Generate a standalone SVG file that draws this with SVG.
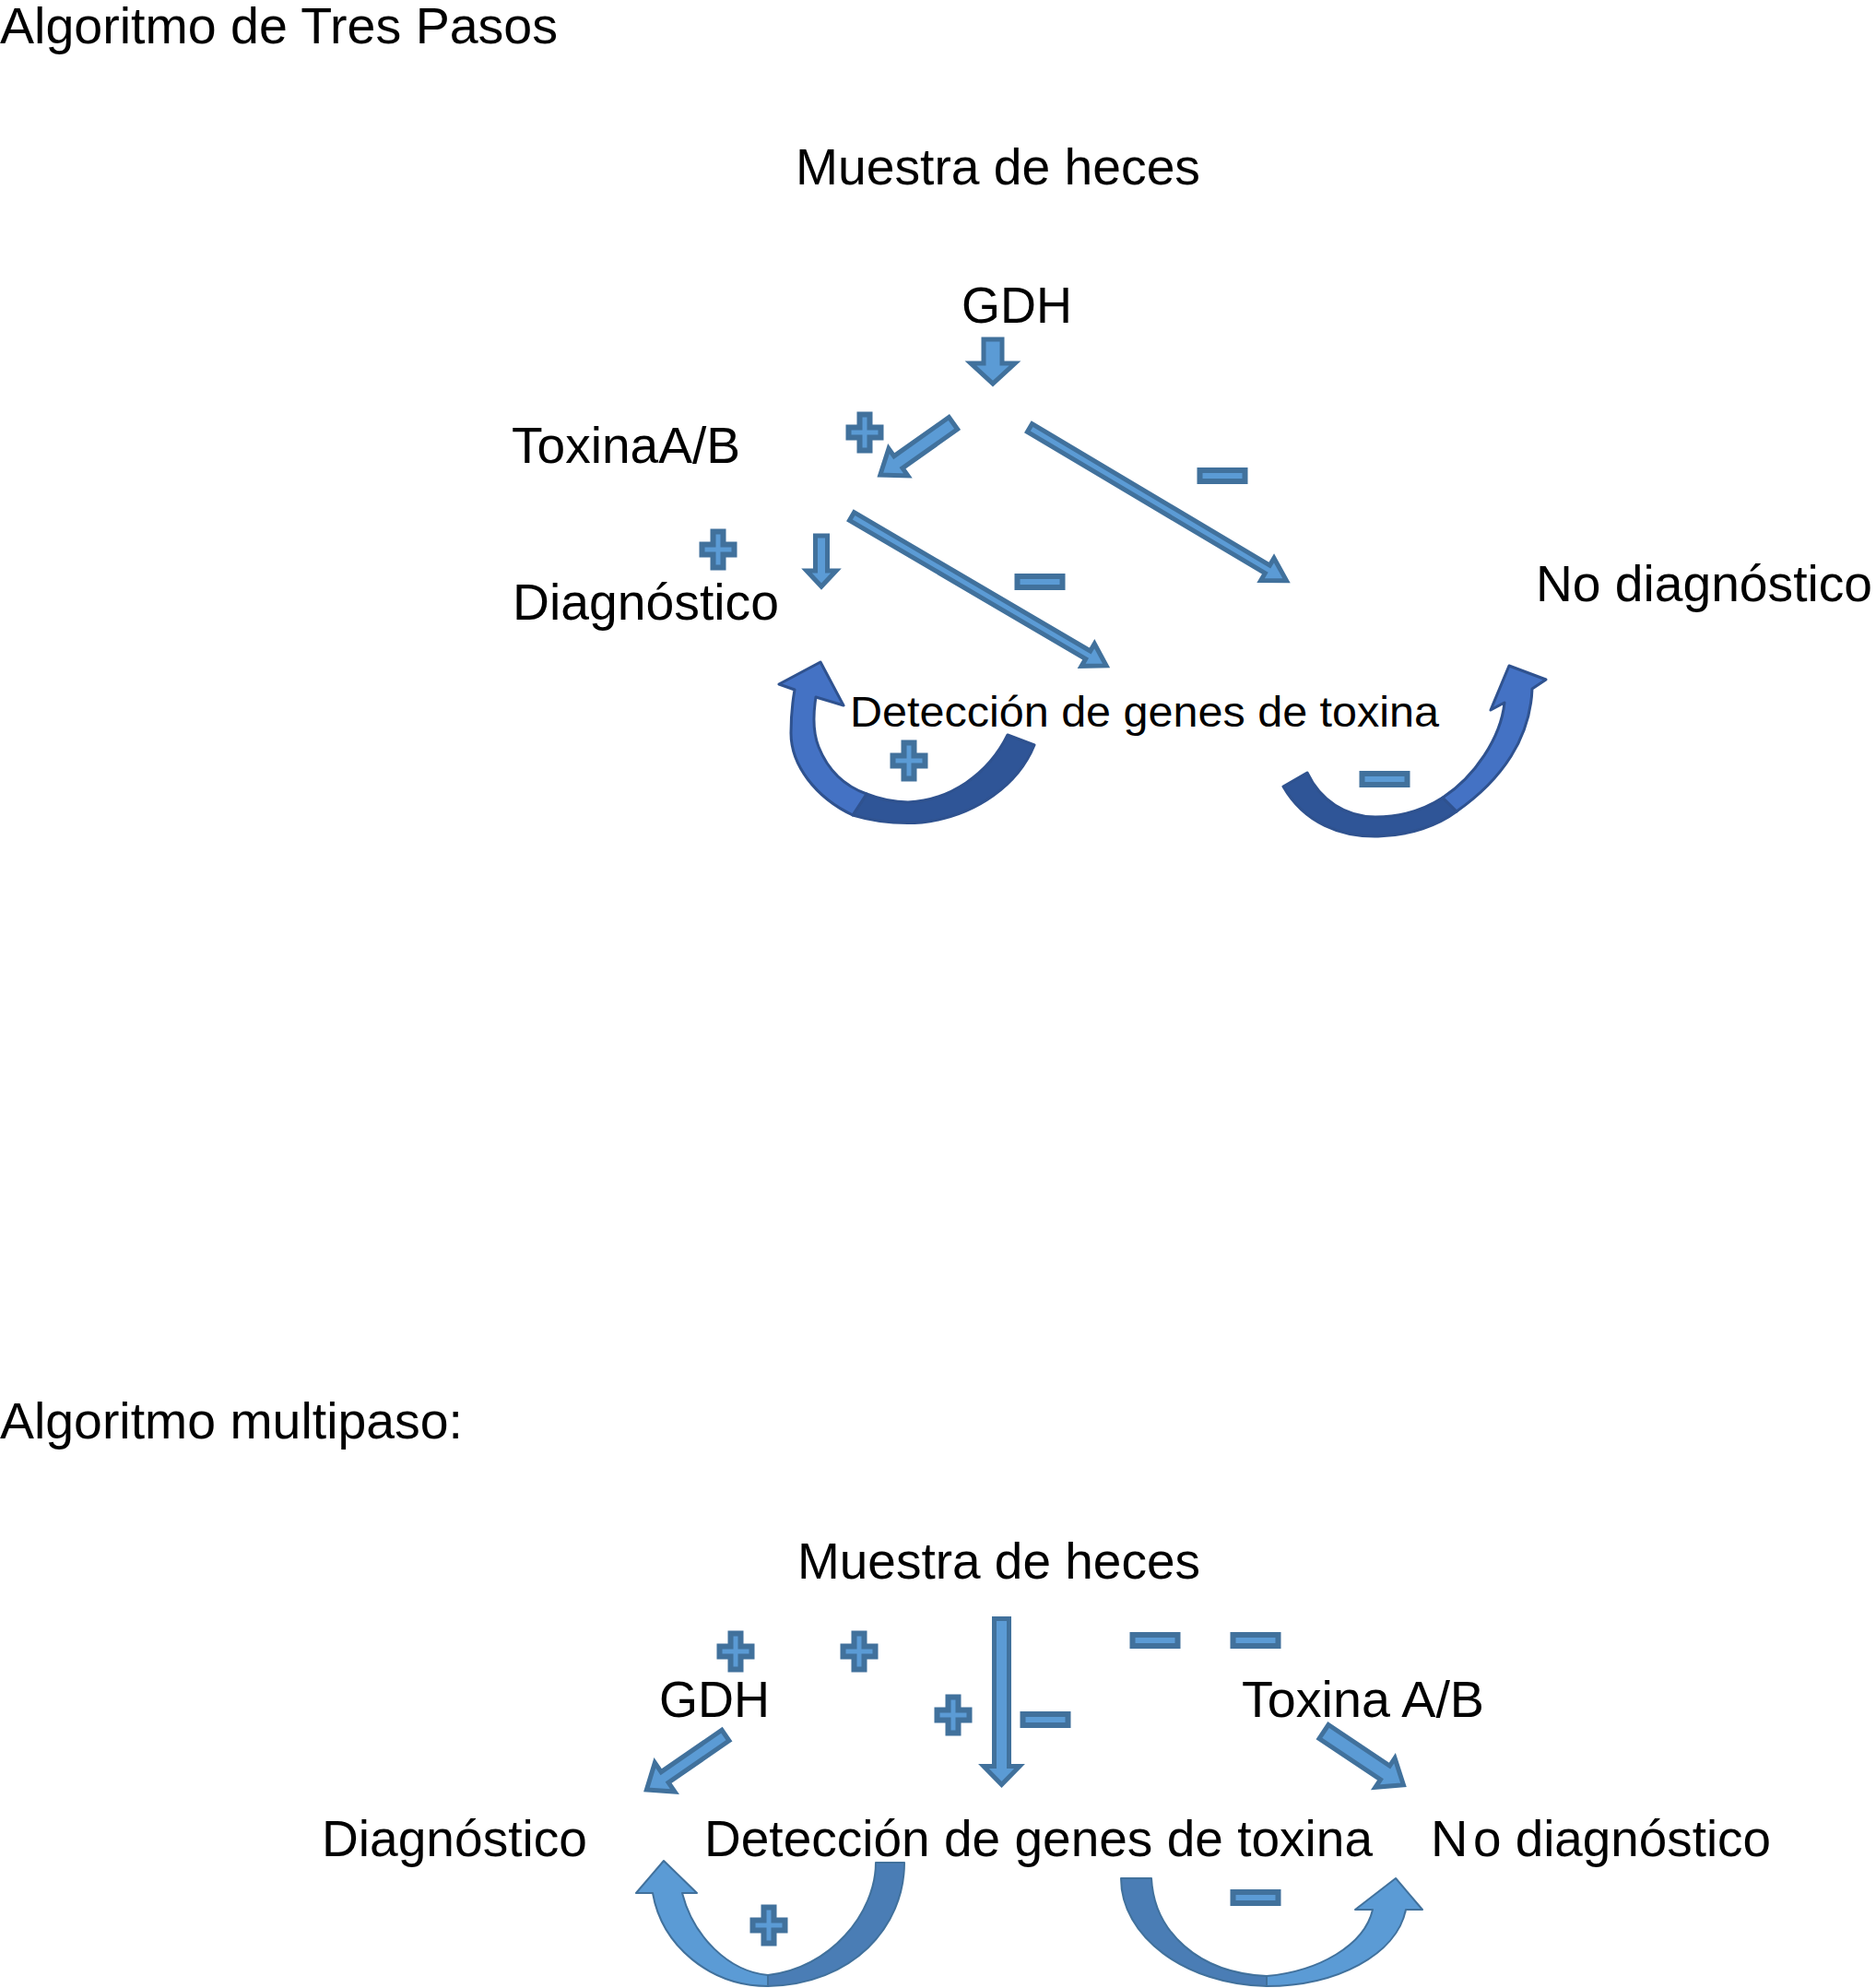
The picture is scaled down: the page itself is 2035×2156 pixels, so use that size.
<svg xmlns="http://www.w3.org/2000/svg" width="2035" height="2156" viewBox="0 0 2035 2156">
<style>
.t{font-family:"Liberation Sans",Arial,Helvetica,sans-serif;font-size:56px;fill:#000}
.s{font-size:47px}
.ar{fill:#5B9BD5;stroke:#41719C;stroke-width:5;stroke-linejoin:miter}
.sg{fill:#5B9BD5;stroke:#41719C;stroke-width:6}
.cl{fill:#4472C4;stroke:#2F528F;stroke-width:3;stroke-linejoin:round}
.cd{fill:#2F5597;stroke:#2F528F;stroke-width:3;stroke-linejoin:round}
.bl{fill:#5B9BD5;stroke:#41719C;stroke-width:2;stroke-linejoin:round}
.bd{fill:#4A7DB5;stroke:#41719C;stroke-width:2;stroke-linejoin:round}
</style>
<defs>
<path id="plus" d="M-5.5,-19.5 H5.5 V-5.5 H17.5 V5.5 H5.5 V19.5 H-5.5 V5.5 H-17.5 V-5.5 H-5.5 Z"/>
<rect id="minus" x="-24.5" y="-6" width="49" height="12"/>
</defs>

<g id="title-tres-pasos"><text class="t" x="0" y="47" textLength="605" lengthAdjust="spacingAndGlyphs">Algoritmo de Tres Pasos</text></g>
<g id="a-muestra"><text class="t" x="863" y="200" textLength="439" lengthAdjust="spacingAndGlyphs">Muestra de heces</text></g>
<g id="a-gdh"><text class="t" x="1043" y="350" textLength="120" lengthAdjust="spacingAndGlyphs">GDH</text></g>
<g id="a-toxina"><text class="t" x="555" y="502" textLength="248" lengthAdjust="spacingAndGlyphs">ToxinaA/B</text></g>
<g id="a-diagnostico"><text class="t" x="556" y="672" textLength="289" lengthAdjust="spacingAndGlyphs">Diagnóstico</text></g>
<g id="a-nodiag"><text class="t" x="1666" y="652" textLength="365" lengthAdjust="spacingAndGlyphs">No diagnóstico</text></g>
<g id="a-deteccion"><text class="t s" x="922" y="788" textLength="639" lengthAdjust="spacingAndGlyphs">Detección de genes de toxina</text></g>

<g id="title-multipaso"><text class="t" x="0" y="1560" textLength="502" lengthAdjust="spacingAndGlyphs">Algoritmo multipaso:</text></g>
<g id="b-muestra"><text class="t" x="865" y="1712" textLength="437" lengthAdjust="spacingAndGlyphs">Muestra de heces</text></g>
<g id="b-gdh"><text class="t" x="715" y="1862" textLength="120" lengthAdjust="spacingAndGlyphs">GDH</text></g>
<g id="b-toxina"><text class="t" x="1347" y="1862" textLength="263" lengthAdjust="spacingAndGlyphs">Toxina A/B</text></g>
<g id="b-diagnostico"><text class="t" x="349" y="2013" textLength="288" lengthAdjust="spacingAndGlyphs">Diagnóstico</text></g>
<g id="b-deteccion"><text class="t" x="764" y="2013" textLength="725" lengthAdjust="spacingAndGlyphs">Detección de genes de toxina</text></g>
<g id="b-nodiag"><text class="t" y="2013"><tspan x="1552">N</tspan><tspan x="1598" textLength="323" lengthAdjust="spacingAndGlyphs">o diagnóstico</tspan></text></g>

<g id="connectors">
<polygon class="ar" transform="translate(1077,368) rotate(90)" points="0,-10 26,-10 26,-24 48,0 26,24 26,10 0,10"/>
<polygon class="ar" transform="translate(1034,459) rotate(144.7)" points="0,-8 73,-8 73,-18 97,0 73,18 73,8 0,8"/>
<polygon class="ar" transform="translate(1117,464) rotate(30.75)" points="0,-5 300,-5 300,-14 324,0 300,14 300,5 0,5"/>
<polygon class="ar" transform="translate(924,560) rotate(30.4)" points="0,-5 297,-5 297,-14 320,0 297,14 297,5 0,5"/>
<polygon class="ar" transform="translate(891,581) rotate(90)" points="0,-6.5 38,-6.5 38,-16 55,0 38,16 38,6.5 0,6.5"/>
<path class="cd" d="M1122,808 C1105,850 1060,885 1000,892 C970,894 945,890 925,884 L940,861 C955,867 970,870 985,870 C1030,868 1072,840 1093,797 Z"/>
<path class="cl" d="M925,884 C885,865 858,830 858,795 C858,780 859,765 862,748 L845,742 L890,718 L915,765 L885,756 C882,775 882,795 888,810 C898,835 915,852 940,861 Z"/>
<path class="cd" d="M1392,853 C1415,893 1455,908 1495,907 C1530,906 1560,895 1580,880 L1565,865 C1545,878 1520,886 1492,886 C1460,886 1432,868 1418,838 Z"/>
<path class="cl" d="M1580,880 C1630,845 1660,800 1662,747 L1677,737 L1637,722 L1617,770 L1632,762 C1628,800 1600,842 1565,865 Z"/>
<polygon class="ar" transform="translate(1086.5,1755.5) rotate(90)" points="0,-8 160,-8 160,-19.5 180,0 160,19.5 160,8 0,8"/>
<polygon class="ar" transform="translate(787,1882) rotate(145.4)" points="0,-7 80,-7 80,-19 104,0 80,19 80,7 0,7"/>
<polygon class="ar" transform="translate(1436,1878) rotate(33.8)" points="0,-9 80,-9 80,-19 104,0 80,19 80,9 0,9"/>
<path class="bd" d="M981,2020 L950,2020 C950,2075 900,2135 833,2142 L833,2154 C925,2152 981,2090 981,2020 Z"/>
<path class="bl" d="M833,2154 L833,2142 C790,2138 752,2100 740,2053 L756,2053 L720,2018 L690,2053 L708,2053 C718,2110 770,2154 833,2154 Z"/>
<path class="bd" d="M1216,2037 L1249,2037 C1252,2095 1300,2140 1374,2143 L1374,2154 C1285,2152 1216,2100 1216,2037 Z"/>
<path class="bl" d="M1374,2154 L1374,2143 C1430,2138 1480,2110 1489,2071 L1470,2071 L1514,2037 L1543,2071 L1525,2071 C1515,2120 1450,2154 1374,2154 Z"/>
</g>

<g id="signs">
<use href="#plus" class="sg" x="938" y="469"/>
<use href="#plus" class="sg" x="779" y="596"/>
<use href="#plus" class="sg" x="986" y="825"/>
<use href="#minus" class="sg" x="1326" y="516"/>
<use href="#minus" class="sg" x="1128" y="631"/>
<use href="#minus" class="sg" x="1502" y="845"/>
<use href="#plus" class="sg" x="798" y="1791"/>
<use href="#plus" class="sg" x="932" y="1791"/>
<use href="#plus" class="sg" x="1034" y="1860"/>
<use href="#plus" class="sg" x="834" y="2088"/>
<use href="#minus" class="sg" x="1134" y="1865"/>
<use href="#minus" class="sg" x="1253" y="1779"/>
<use href="#minus" class="sg" x="1362" y="1779"/>
<use href="#minus" class="sg" x="1362" y="2058"/>
</g>
</svg>
